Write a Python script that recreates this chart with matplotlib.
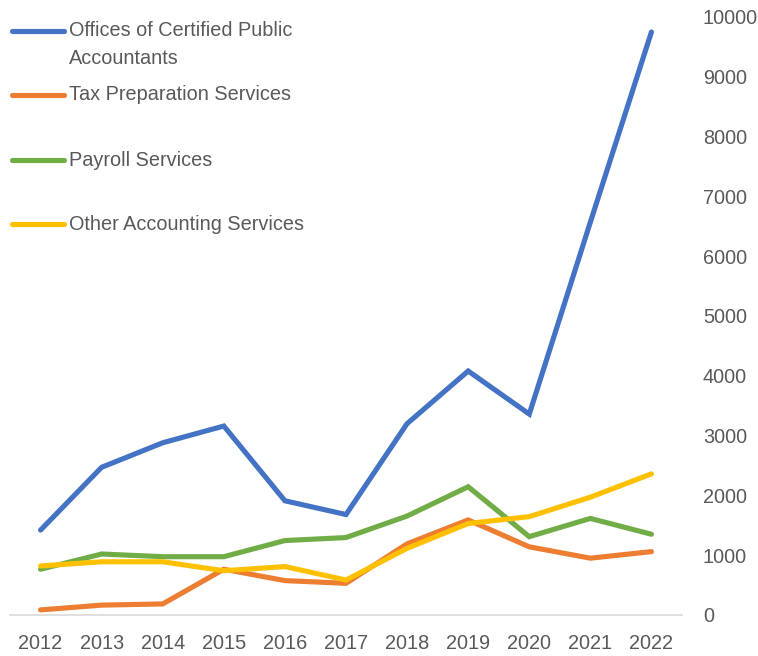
import matplotlib.pyplot as plt
from matplotlib.lines import Line2D
from matplotlib import font_manager

plt.switch_backend("Agg")

years = [2012, 2013, 2014, 2015, 2016, 2017, 2018, 2019, 2020, 2021, 2022]
cpa_offices = [1420, 2470, 2880, 3160, 1910, 1680, 3200, 4080, 3360, 6570, 9750]
tax_prep = [85, 165, 185, 765, 575, 530, 1190, 1590, 1140, 950, 1060]
payroll = [765, 1020, 975, 975, 1245, 1295, 1655, 2145, 1310, 1615, 1350]
other_acct = [820, 890, 890, 740, 810, 585, 1115, 1530, 1645, 1970, 2360]

series_names = [
    "Offices of Certified Public\nAccountants",
    "Tax Preparation Services",
    "Payroll Services",
    "Other Accounting Services",
]
colors = ["#4472C4", "#ED7D31", "#70AD47", "#FFC000"]
y_ticks = list(range(0, 10001, 1000))

# Excel-like condensed font if we have it, otherwise Arial metrics
available = {f.name for f in font_manager.fontManager.ttflist}
if "Liberation Sans Narrow" in available:
    plt.rcParams["font.family"] = ["Liberation Sans Narrow", "DejaVu Sans"]
    fsize = 17
else:
    plt.rcParams["font.family"] = ["Liberation Sans", "DejaVu Sans"]
    fsize = 14.3
text_color = "#595959"

W, H = 758, 656
fig = plt.figure(figsize=(W / 100, H / 100), dpi=100)
ax = fig.add_axes([10 / W, 1 - 615 / H, 672 / W, 598 / H])

x = list(range(len(years)))
for vals, c in zip([cpa_offices, tax_prep, payroll, other_acct], colors):
    ax.plot(x, vals, color=c, linewidth=3.7, solid_capstyle="round", solid_joinstyle="miter")

ax.set_xlim(-0.5, len(years) - 0.5)
ax.set_ylim(0, 10000)
ax.set_xticks(x)
ax.set_xticklabels([str(y) for y in years])
ax.set_yticks(y_ticks)
ax.yaxis.tick_right()
ax.tick_params(axis="both", length=0, labelsize=fsize, labelcolor=text_color)
ax.tick_params(axis="x", pad=14)
ax.tick_params(axis="y", pad=15)
for side in ["top", "left", "right"]:
    ax.spines[side].set_visible(False)
ax.spines["bottom"].set_color("#D9D9D9")
ax.spines["bottom"].set_linewidth(1.2)

# legend, drawn by hand so the entries are evenly spaced like Excel
handle_y = [31, 95, 160, 224]
for name, c, hy in zip(series_names, colors, handle_y):
    fy = 1 - hy / H
    fig.add_artist(Line2D([12 / W, 64 / W], [fy, fy], transform=fig.transFigure,
                          color=c, linewidth=3.7, solid_capstyle="round"))
    for i, line in enumerate(name.split("\n")):
        fig.text(69 / W, 1 - (hy + 27 * i) / H, line, fontsize=fsize,
                 color=text_color, va="center", ha="left")

fig.savefig("out.png", dpi=100)
